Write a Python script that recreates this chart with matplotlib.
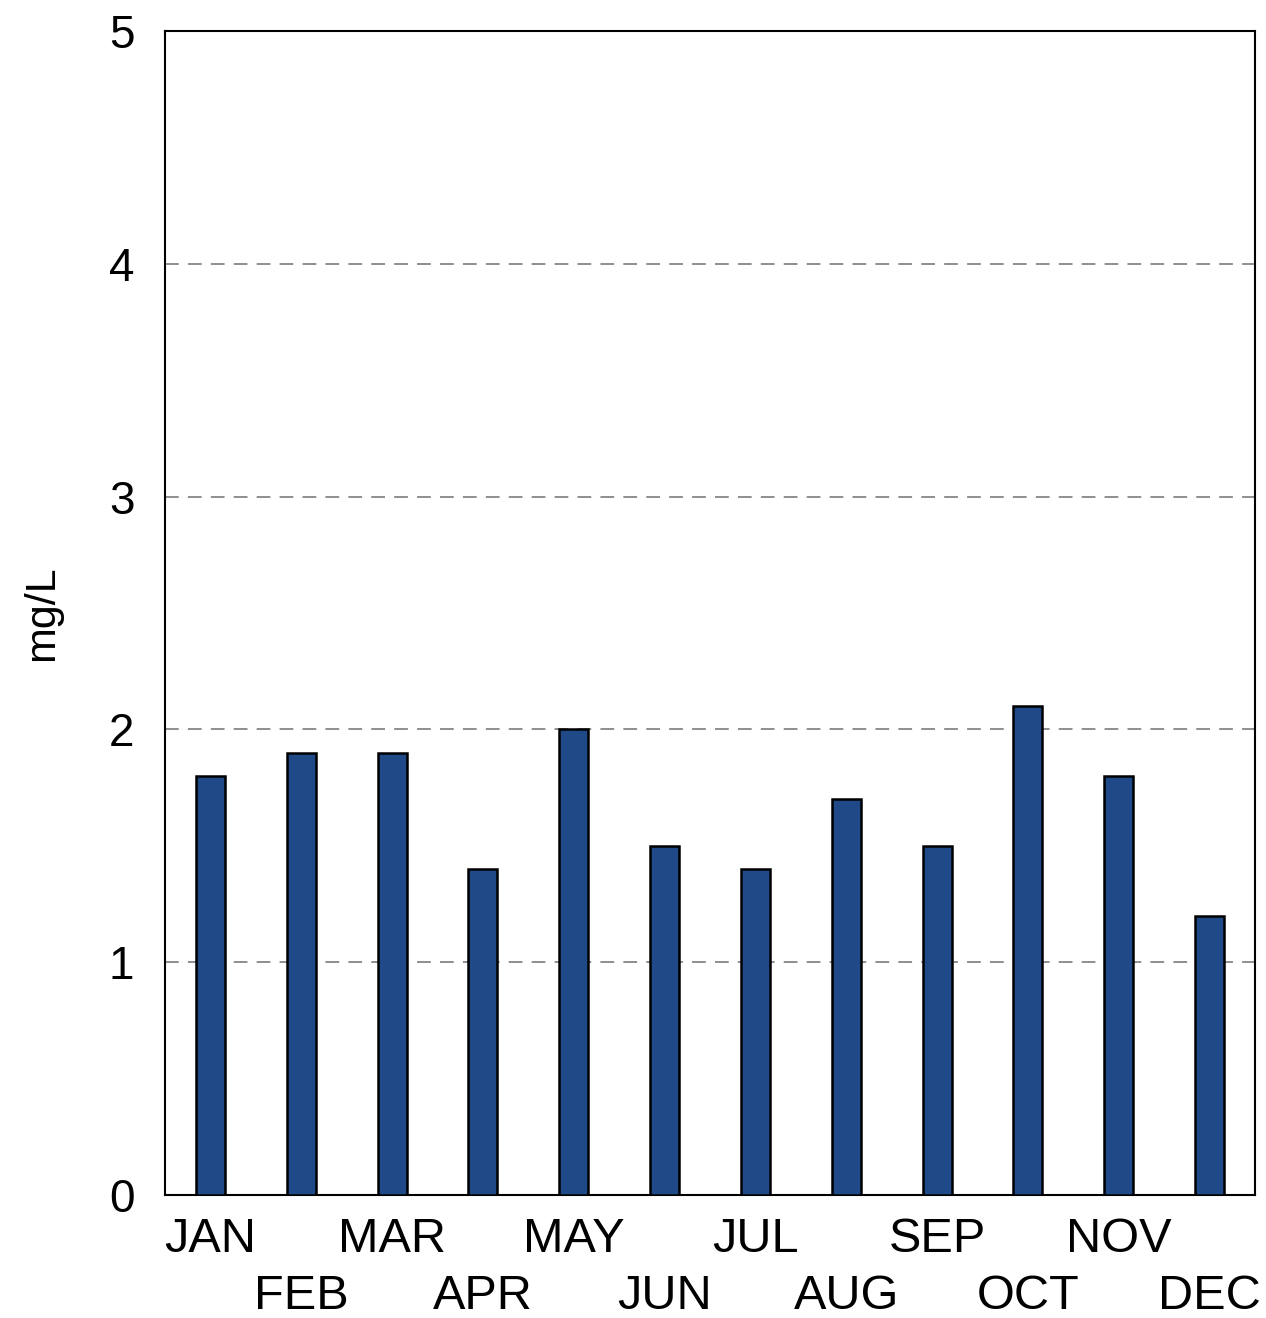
import matplotlib
matplotlib.use("Agg")
import matplotlib.pyplot as plt

plt.rcParams.update({"font.family": "Liberation Sans"})

months = ["JAN", "FEB", "MAR", "APR", "MAY", "JUN", "JUL", "AUG", "SEP", "OCT", "NOV", "DEC"]
values = [1.8, 1.9, 1.9, 1.4, 2.0, 1.5, 1.4, 1.7, 1.5, 2.1, 1.8, 1.2]
yticks = [0, 1, 2, 3, 4, 5]

BAR = "#1F4A87"

fig = plt.figure(figsize=(12.66, 13.18), dpi=100)
ax = fig.add_axes([165 / 1266, 1 - 1195 / 1318, 1090 / 1266, 1164 / 1318])

x = list(range(len(months)))
ax.bar(x, values, width=0.32, color=BAR, edgecolor="black", linewidth=1.8, zorder=3)

ax.set_xlim(-0.5, len(months) - 0.5)
ax.set_ylim(0, 5)
ax.set_yticks(yticks)
ax.set_yticklabels([str(v) for v in yticks], fontsize=33)
for v in yticks[1:-1]:
    ax.axhline(v, color="#707070", lw=1.1, ls=(0, (9, 6)), zorder=1)

ax.set_xticks(x)
ax.set_xticklabels(months, fontsize=35)
ax.tick_params(axis="both", length=0)
ax.tick_params(axis="y", pad=22)
for i, t in enumerate(ax.xaxis.get_major_ticks()):
    t.set_pad(16 if i % 2 == 0 else 57)

ax.set_ylabel("mg/L", fontsize=31, labelpad=34)
for s in ax.spines.values():
    s.set_linewidth(1.5)
    s.set_color("black")

fig.savefig("out.png", dpi=100)
